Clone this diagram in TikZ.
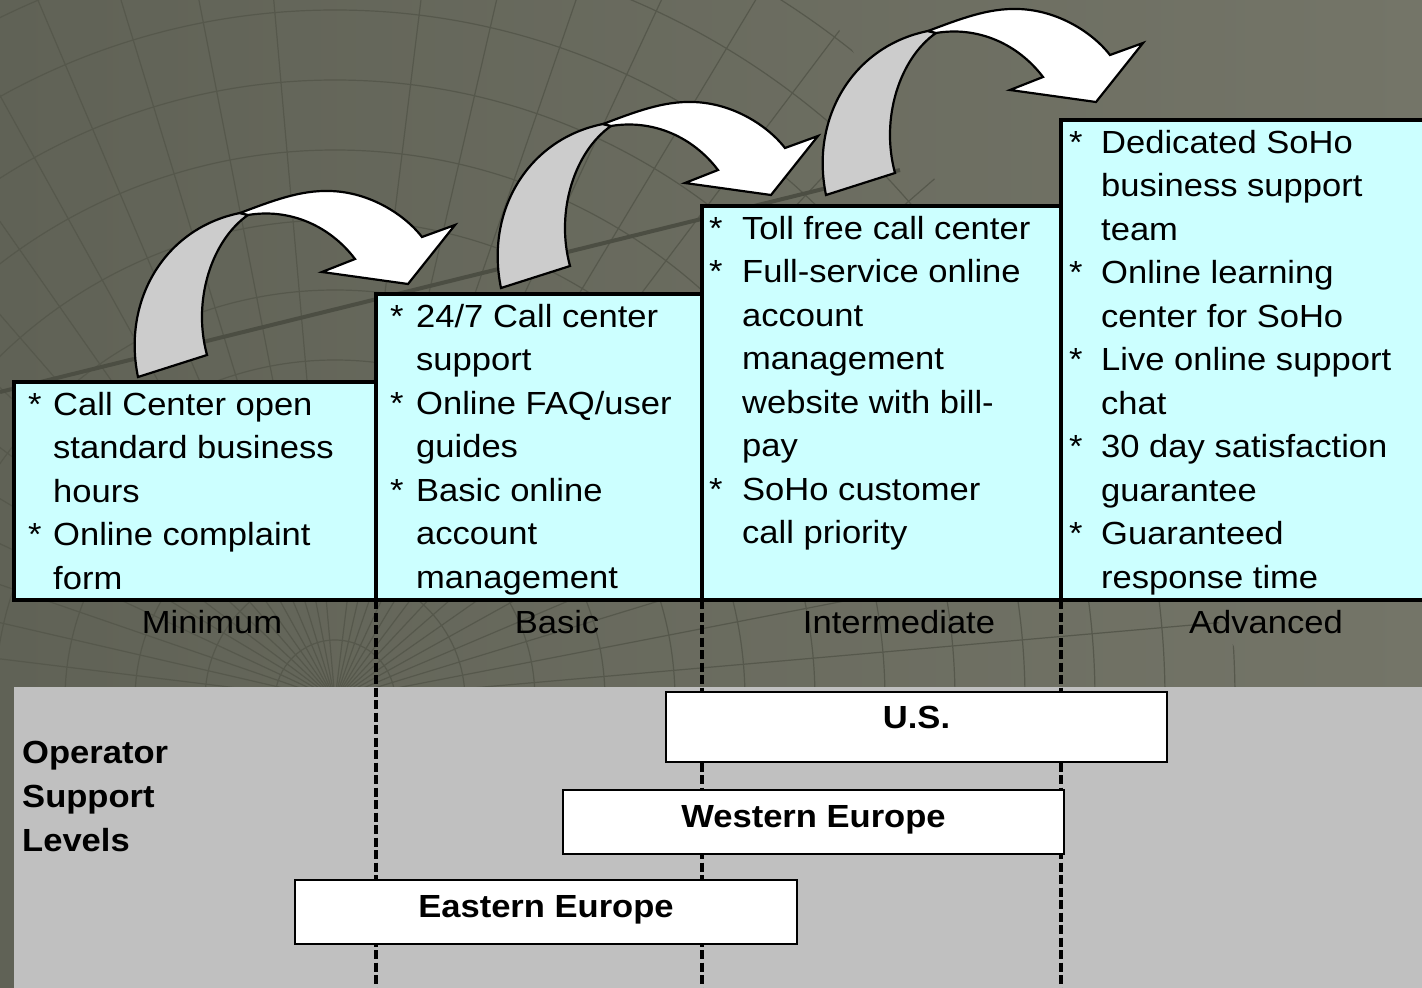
\documentclass[tikz,border=0pt]{standalone}
\usepackage{fontspec}
\setmainfont{Liberation Sans}[FakeStretch=1.08]
\usetikzlibrary{calc}
\definecolor{bgL}{RGB}{96,98,86}
\definecolor{bgR}{RGB}{116,117,104}
\definecolor{gridc}{RGB}{86,88,76}
\definecolor{axisc}{RGB}{76,78,67}
\definecolor{cyanbox}{RGB}{204,255,255}
\definecolor{graypanel}{RGB}{192,192,192}
\definecolor{arrowgray}{RGB}{204,204,204}
\tikzset{
  cbox/.style={draw=black, line width=3.5pt, fill=cyanbox, inner sep=0pt, outer sep=0pt, anchor=north west},
  ctry/.style={draw=black, line width=2.2pt, fill=white, inner sep=0pt, outer sep=0pt, anchor=north west},
  txt/.style={inner sep=0pt, anchor=north west, font=\fontsize{32}{43.5}\selectfont},
  lvl/.style={inner sep=0pt, anchor=base, font=\fontsize{32}{43.5}\selectfont},
  ctrytxt/.style={inner sep=0pt, anchor=base, font=\fontsize{32}{43.5}\selectfont\bfseries},
  dashline/.style={draw=black, line width=3.8pt, dash pattern=on 9pt off 3.5pt},
  gridline/.style={draw=gridc, line width=1.2pt},
  arrowline/.style={draw=black, line width=2.2pt, line join=miter},
}
\begin{document}
\begin{tikzpicture}[x=1pt,y=-1pt]
\path[use as bounding box] (0,0) rectangle (1422,988);
% background
\shade[left color=bgL, right color=bgR] (0,0) rectangle (1422,988);
\begin{scope}
  \clip (0,0) -- (820,0) -- (1260,687) -- (0,687) -- cycle;
  \coordinate (gc) at (335,700);
  \foreach \a in {95,101,...,175} \draw[gridline] (gc) -- ++(\a:1300pt);
  \foreach \a in {5,11,...,85} \draw[gridline] (gc) -- ++(\a:1300pt);
  \foreach \r in {60,130,...,1000} \draw[gridline] (gc) circle[radius=\r pt];
  \draw[draw=axisc, line width=4pt] (0,392) -- (900,170);
\end{scope}
% lower panel
\fill[graypanel] (14,687) rectangle (1422,988);
% dashed column separators
\coordinate (d1) at (376,988);
\coordinate (d2) at (702,988);
\coordinate (d3) at (1061,988);
% level boxes
\node[cbox, minimum width=362pt, minimum height=218pt] (b1) at (14,382) {};
\node[cbox, minimum width=326pt, minimum height=306pt] (b2) at (376,294) {};
\node[cbox, minimum width=359pt, minimum height=394pt] (b3) at (702,206) {};
\node[cbox, minimum width=400pt, minimum height=480pt] (b4) at (1061,120) {};
\draw[dashline] (b1.south east) -- (d1);
\draw[dashline] (b2.south east) -- (d2);
\draw[dashline] (b3.south east) -- (d3);
% box texts
\node[txt] (t1) at ($(b1.north west)+(14,2.5)$) {\begin{tabular}{@{}p{25pt}@{}l@{}}{*}&Call Center open\\&standard business\\&hours\\{*}&Online complaint\\&form\end{tabular}};
\node[txt] (t2) at ($(b2.north west)+(14,2.5)$) {\begin{tabular}{@{}p{26pt}@{}l@{}}{*}&24/7 Call center\\&support\\{*}&Online FAQ/user\\&guides\\{*}&Basic online\\&account\\&management\end{tabular}};
\node[txt] (t3) at ($(b3.north west)+(7,2.5)$) {\begin{tabular}{@{}p{33pt}@{}l@{}}{*}&Toll free call center\\{*}&Full-service online\\&account\\&management\\&website with bill-\\&pay\\{*}&SoHo customer\\&call priority\end{tabular}};
\node[txt] (t4) at ($(b4.north west)+(8,2.5)$) {\begin{tabular}{@{}p{32pt}@{}l@{}}{*}&Dedicated SoHo\\&business support\\&team\\{*}&Online learning\\&center for SoHo\\{*}&Live online support\\&chat\\{*}&30 day satisfaction\\&guarantee\\{*}&Guaranteed\\&response time\end{tabular}};
% level labels
\node[lvl] (l1) at (212,633) {Minimum};
\node[lvl] (l2) at (557,633) {Basic};
\node[lvl] (l3) at (899,633) {Intermediate};
\node[lvl] (l4) at (1266,633) {Advanced};
% operator support
\node[txt, font=\fontsize{32}{44}\selectfont\bfseries] (ops) at (22,732.2) {\begin{tabular}{@{}l@{}}Operator\\Support\\Levels\end{tabular}};
% country boxes
\node[ctry, minimum width=501pt, minimum height=70pt] (us) at (666,692) {};
\node[ctry, minimum width=501pt, minimum height=64pt] (we) at (563,790) {};
\node[ctry, minimum width=502pt, minimum height=64pt] (ee) at (295,880) {};
\node[ctrytxt] (ust) at ($(us.north)+(0,36)$) {U.S.};
\node[ctrytxt] (wet) at ($(we.north)+(0,37)$) {Western Europe};
\node[ctrytxt] (eet) at ($(ee.north)+(0,37)$) {Eastern Europe};
% curved block arrows
\foreach \dx/\dy in {0/0, 363/-89, 688/-182}{
  \begin{scope}[shift={(\dx,\dy)}]
    \filldraw[arrowline, fill=arrowgray] (138,377) .. controls (122,300) and (165,228) .. (240,213) -- (248,215) .. controls (212,240) and (192,300) .. (207,355) -- cycle;
    \filldraw[arrowline, fill=white] (240,213) .. controls (272,201) and (300,190) .. (330,191) .. controls (370,192) and (405,215) .. (422,237) -- (455,225) -- (408,284) -- (322,272) -- (355,259) .. controls (330,226) and (290,208) .. (248,215) -- cycle;
  \end{scope}
}
\end{tikzpicture}
\end{document}
